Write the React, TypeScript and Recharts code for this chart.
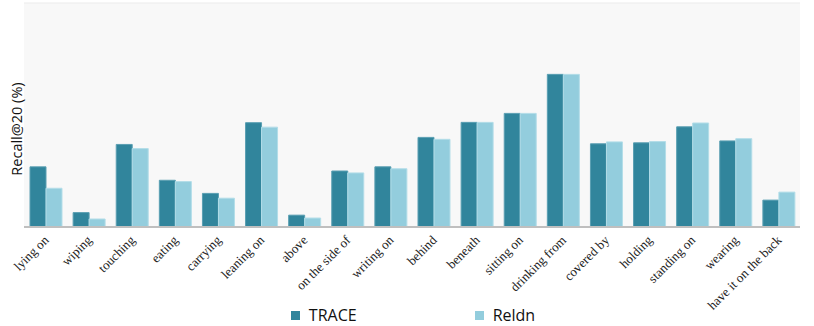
import React from 'react';
import { BarChart, Bar, XAxis, YAxis, CartesianGrid, Legend } from 'recharts';

const relations = [
  'lying on', 'wiping', 'touching', 'eating', 'carrying', 'leaning on', 'above',
  'on the side of', 'writing on', 'behind', 'beneath', 'sitting on', 'drinking from',
  'covered by', 'holding', 'standing on', 'wearing', 'have it on the back',
];
const trace = [18.8, 4.5, 25.8, 14.6, 10.5, 32.6, 3.7, 17.5, 18.8, 28.0, 32.7, 35.5, 47.7, 26.0, 26.3, 31.3, 26.9, 8.4];
const reldn = [12.1, 2.5, 24.5, 14.2, 9.0, 31.2, 2.8, 16.9, 18.2, 27.4, 32.7, 35.5, 47.7, 26.6, 26.7, 32.5, 27.6, 10.9];
// faint striped background, one line every 0.8 units
const gridTicks = Array.from({ length: 88 }, (_, i) => +(i * 0.8).toFixed(1));

const data = relations.map((name, i) => ({ name, trace: trace[i], reldn: reldn[i] }));

const TRACE_COLOR = '#31859C';
const RELDN_COLOR = '#93CDDD';

const SlantTick = ({ x, y, payload }: any) => (
  <text
    x={x + 4}
    y={y + 6}
    transform={`rotate(-45, ${x + 4}, ${y + 6})`}
    textAnchor="end"
    fontFamily="'Liberation Serif', 'Times New Roman', serif"
    fontSize={13}
    fill="#222"
  >
    {payload.value}
  </text>
);

const YLabel = ({ viewBox }: any) => {
  const cx = viewBox.x + 16;
  const cy = viewBox.y + viewBox.height / 2 + 14;
  return (
    <text
      x={cx}
      y={cy}
      transform={`rotate(-90, ${cx}, ${cy})`}
      textAnchor="middle"
      dominantBaseline="central"
      fontFamily="'Open Sans', 'Noto Sans', sans-serif"
      fontSize={14.5}
      fill="#111"
    >
      Recall@20 (%)
    </text>
  );
};

const LegendBox = () => (
  <div
    style={{
      display: 'flex',
      justifyContent: 'center',
      gap: 118,
      fontFamily: "'Open Sans', 'Noto Sans', sans-serif",
      fontSize: 16,
      lineHeight: '22px',
      color: '#111',
      paddingLeft: 26,
      paddingTop: 5,
      height: 22,
    }}
  >
    {[
      { label: 'TRACE', color: TRACE_COLOR },
      { label: 'Reldn', color: RELDN_COLOR },
    ].map((it) => (
      <div key={it.label} style={{ display: 'flex', alignItems: 'center', gap: 9 }}>
        <span style={{ width: 9, height: 9, background: it.color, display: 'inline-block' }} />
        <span>{it.label}</span>
      </div>
    ))}
  </div>
);

export default function App() {
  return (
    <div style={{ width: 814, height: 326, background: '#fff', overflow: 'hidden' }}>
      <style>{'body{margin:0}'}</style>
      <BarChart
        width={814}
        height={326}
        data={data}
        margin={{ top: 3, right: 14, bottom: 0, left: 0 }}
        barGap={0}
        barCategoryGap={6}
      >
        <CartesianGrid vertical={false} fill="#f8f8f8" stroke="#ebebeb" strokeWidth={1} />
        <YAxis
          width={24}
          domain={[0, 70]}
          ticks={gridTicks}
          tick={false}
          tickLine={false}
          axisLine={false}
          label={<YLabel />}
        />
        <XAxis
          dataKey="name"
          interval={0}
          height={72}
          tickLine={false}
          axisLine={{ stroke: '#bfbfbf', strokeWidth: 2 }}
          tick={<SlantTick />}
        />
        <Legend verticalAlign="bottom" height={27} content={<LegendBox />} />
        <Bar dataKey="trace" name="TRACE" fill={TRACE_COLOR} stroke="#5a9fb2" strokeWidth={1} isAnimationActive={false} />
        <Bar dataKey="reldn" name="Reldn" fill={RELDN_COLOR} stroke="#b3dde8" strokeWidth={1} isAnimationActive={false} />
      </BarChart>
    </div>
  );
}
